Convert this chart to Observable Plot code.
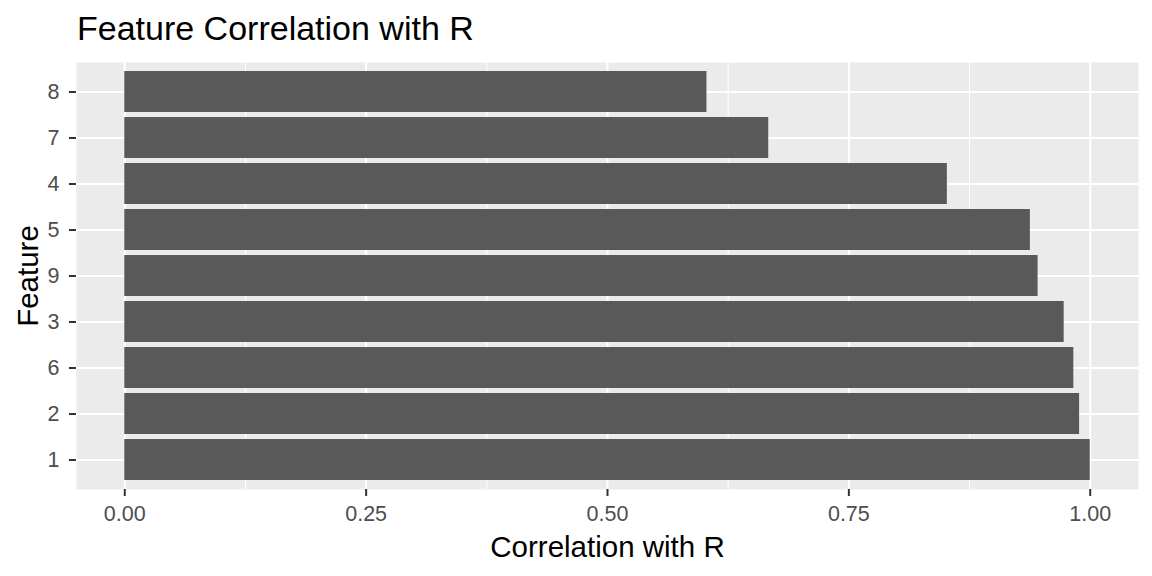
<!DOCTYPE html>
<html>
<head>
<meta charset="utf-8">
<script src="https://cdn.jsdelivr.net/npm/d3@7"></script>
<script src="https://cdn.jsdelivr.net/npm/@observablehq/plot@0.6"></script>
<style>
  html, body { margin: 0; padding: 0; background: white; }
  #wrap { width: 1152px; height: 576px; overflow: hidden; font-family: "Liberation Sans", Arial, sans-serif; }
  #title { box-sizing: border-box; height: 48px; padding-top: 8px; padding-left: 77px; font-size: 34px; line-height: 40px; color: #000; white-space: nowrap; }
  svg { display: block; }
</style>
</head>
<body>
<div id="wrap">
  <div id="title">Feature Correlation with R</div>
  <div id="chart"></div>
</div>
<script>
const features = ["8", "7", "4", "5", "9", "3", "6", "2", "1"];
const correlations = [0.603, 0.667, 0.852, 0.938, 0.946, 0.973, 0.983, 0.989, 1.0];
const xTicks = [0, 0.25, 0.5, 0.75, 1];
const xTickLabels = ["0.00", "0.25", "0.50", "0.75", "1.00"];
const xMinor = [0.125, 0.375, 0.625, 0.875];
const xTitle = "Correlation with R";
const yTitle = "Feature";

const rows = features.map((f, i) => ({feature: f, r: correlations[i]}));
const font = '"Liberation Sans", Arial, sans-serif';

const chart = Plot.plot({
  width: 1152,
  height: 528,
  marginTop: 14,
  marginBottom: 87,
  marginLeft: 76,
  marginRight: 14,
  style: {fontFamily: font, background: "white", overflow: "visible"},
  x: {domain: [-0.05, 1.05]},
  y: {domain: features, paddingInner: 0.1, paddingOuter: 0.15, align: 0.5},
  marks: [
    Plot.frame({fill: "#EBEBEB", stroke: "none"}),
    Plot.gridX({ticks: xMinor, stroke: "white", strokeOpacity: 1, strokeWidth: 1}),
    Plot.gridX({ticks: xTicks, stroke: "white", strokeOpacity: 1, strokeWidth: 2}),
    Plot.gridY({stroke: "white", strokeOpacity: 1, strokeWidth: 2}),
    Plot.barX(rows, {x: "r", y: "feature", fill: "#595959"}),
    Plot.axisX({ticks: xTicks, tickFormat: () => "", tickSize: 7, stroke: "#333333", strokeWidth: 2, label: null}),
    Plot.axisY({tickFormat: () => "", tickSize: 7, stroke: "#333333", strokeWidth: 2, label: null}),
    Plot.text(xTickLabels, {x: (d, i) => xTicks[i], frameAnchor: "bottom", lineAnchor: "top", textAnchor: "middle", dy: 16, fontSize: 21.5, fill: "#4D4D4D"}),
    Plot.text(features, {y: d => d, frameAnchor: "left", lineAnchor: "middle", textAnchor: "end", dx: -17, fontSize: 21.5, fill: "#4D4D4D"}),
    Plot.text([xTitle], {frameAnchor: "bottom", lineAnchor: "middle", textAnchor: "middle", dy: 58, fontSize: 29.5, fill: "black"}),
    Plot.text([yTitle], {frameAnchor: "left", lineAnchor: "middle", textAnchor: "middle", dx: -48, rotate: -90, fontSize: 29.5, fill: "black"})
  ]
});
document.getElementById("chart").appendChild(chart);
</script>
</body>
</html>
